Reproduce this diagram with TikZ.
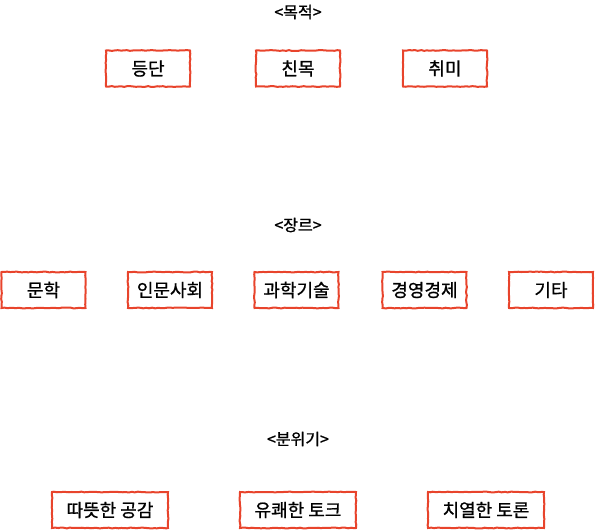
\documentclass[tikz,border=0pt]{standalone}
\usepackage{fontspec}
\newfontfamily\kr[FakeBold=1]{Noto Sans CJK KR}
\usetikzlibrary{decorations.pathmorphing}
\definecolor{boxred}{HTML}{E8442C}
\begin{document}
\begin{tikzpicture}[x=1pt,y=-1pt,
  box/.style={draw=boxred,line width=2pt,minimum height=36pt,inner sep=0pt,
    font=\kr\fontsize{18}{18}\selectfont,
    decorate,decoration={random steps,segment length=3pt,amplitude=0.4pt}},
  boxa/.style={box,minimum width=84pt},
  boxb/.style={box,minimum width=116pt},
  ttl/.style={font=\kr\fontsize{16}{16}\selectfont,inner sep=0pt}]
\useasboundingbox (0,0) rectangle (595,530);
\node[ttl] (t1) at (298,12) {<목적>};
\node[boxa] (a1) at (148,68.5) {등단};
\node[boxa] (a2) at (298,68.5) {친목};
\node[boxa] (a3) at (445,68.5) {취미};
\node[ttl] (t2) at (298,225) {<장르>};
\node[boxa] (b1) at (43.5,290) {문학};
\node[boxa] (b2) at (170,290) {인문사회};
\node[boxa] (b3) at (296.5,290) {과학기술};
\node[boxa] (b4) at (424.5,290) {경영경제};
\node[boxa] (b5) at (551,290) {기타};
\node[ttl] (t3) at (298,439) {<분위기>};
\node[boxb] (c1) at (110,510) {따뜻한 공감};
\node[boxb] (c2) at (298,510) {유쾌한 토크};
\node[boxb] (c3) at (486,510) {치열한 토론};
\end{tikzpicture}
\end{document}
